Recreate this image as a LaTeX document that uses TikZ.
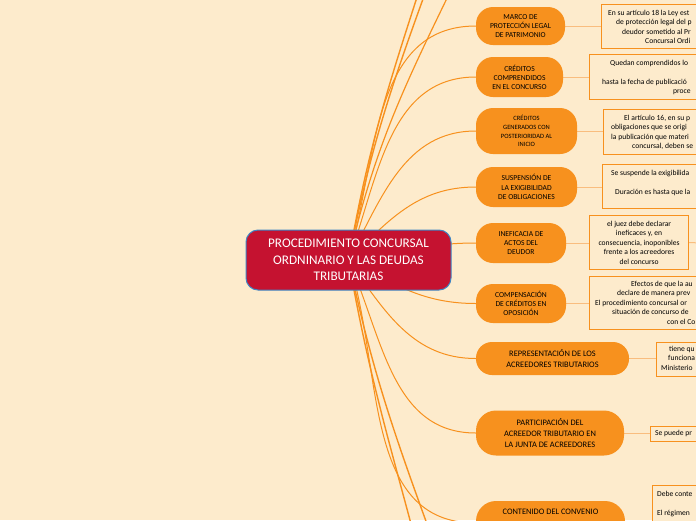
\documentclass[tikz,border=0pt]{standalone}
\usepackage{fontspec}
\setmainfont{Carlito}
\usepackage{tikz}
\usetikzlibrary{backgrounds}
\definecolor{cream}{HTML}{FDEBCC}
\definecolor{mmorange}{HTML}{F7911E}
\definecolor{mmlight}{HTML}{F9BD7E}
\definecolor{mmred}{HTML}{C51230}
\definecolor{mmblue}{HTML}{3F86C4}

\begin{document}
\begin{tikzpicture}[x=1pt,y=-1pt,
  root/.style={fill=mmred,draw=mmblue,line width=1pt,rounded corners=12pt,text=white,align=center,
    font=\fontsize{13.2}{16.5}\selectfont,minimum width=205pt,minimum height=60pt,inner sep=0pt},
  branch/.style={fill=mmorange,rounded corners=17pt,align=center,font=\fontsize{7.6}{9}\selectfont,inner sep=0pt},
  wide/.style={font=\fontsize{8.4}{11}\selectfont},
  note/.style={draw=mmorange,line width=1.2pt,fill=cream,anchor=north west,inner sep=0pt},
  notetext/.style={anchor=base west,align=left,inner sep=0pt,font=\fontsize{7.6}{9.5}\selectfont},
  link/.style={mmorange,line width=1pt},
  twig/.style={mmlight,line width=1pt}]
\useasboundingbox (0,0) rectangle (696,520);

\node[root] (root) at (348.5,260) {PROCEDIMIENTO CONCURSAL\\ORDNINARIO Y LAS DEUDAS\\TRIBUTARIAS};

% ramas
\node[branch,minimum width=89pt,minimum height=38pt] (b1) at (520.5,26) {MARCO DE\\PROTECCIÓN LEGAL\\DE PATRIMONIO};
\node[branch,minimum width=87pt,minimum height=40pt] (b2) at (519.5,77) {CRÉDITOS\\COMPRENDIDOS\\EN EL CONCURSO};
\node[branch,minimum width=101pt,minimum height=46pt,font=\fontsize{6.5}{8.7}\selectfont] (b3) at (526.5,131) {CRÉDITOS\\GENERADOS CON\\POSTERIORIDAD AL\\INICIO};
\node[branch,minimum width=101pt,minimum height=40pt,font=\fontsize{7.6}{9.5}\selectfont] (b4) at (526.5,187) {SUSPENSIÓN DE\\LA EXIGIBILIDAD\\DE OBLIGACIONES};
\node[branch,minimum width=90pt,minimum height=40pt] (b5) at (521,243) {INEFICACIA DE\\ACTOS DEL\\DEUDOR};
\node[branch,minimum width=90pt,minimum height=39pt] (b6) at (521,303.5) {COMPENSACIÓN\\DE CRÉDITOS EN\\OPOSICIÓN};
\node[branch,wide,minimum width=153pt,minimum height=33pt,rounded corners=16pt] (b7) at (552.5,358.5) {REPRESENTACIÓN DE LOS\\ACREEDORES TRIBUTARIOS};
\node[branch,wide,minimum width=148pt,minimum height=45pt,rounded corners=20pt] (b8) at (550,433) {PARTICIPACIÓN DEL\\ACREEDOR TRIBUTARIO EN\\LA JUNTA DE ACREEDORES};
\node[branch,wide,minimum width=149pt,minimum height=44pt,rounded corners=20pt] (b9) at (550.5,523) {CONTENIDO DEL CONVENIO\\~\\~};

% notas
\node[note,minimum width=120pt,minimum height=44pt] (d1) at (601,4) {};
\node[notetext] (t1) at (608,43.8) {En su artículo 18 la Ley est\\\hspace*{8pt}de protección legal del p\\\hspace*{14pt}deudor sometido al Pr\\\hspace*{37pt}Concursal Ordi};
\node[note,minimum width=130pt,minimum height=45pt] (d2) at (589,54) {};
\node[notetext] (t2) at (602,93.8) {\hspace*{8pt}Quedan comprendidos lo\\~\\hasta la fecha de publicació\\\hspace*{71pt}proce};
\node[note,minimum width=120pt,minimum height=45pt] (d3) at (603,109) {};
\node[notetext] (t3) at (611,148.8) {\hspace*{13pt}El artículo 16, en su p\\obligaciones que se origi\\la publicación que materi\\\hspace*{21pt}concursal, deben se};
\node[note,minimum width=120pt,minimum height=44pt] (d4) at (602,164) {};
\node[notetext] (t4) at (611,194.3) {Se suspende la exigibilida\\~\\\hspace*{4pt}Duración es hasta que la};
\node[note,minimum width=99pt,minimum height=54pt,align=center,anchor=north west,
  font=\fontsize{7.6}{9.5}\selectfont] (d5) at (589,215) {el juez debe declarar\\ineficaces y, en\\consecuencia, inoponibles\\frente a los acreedores\\del concurso};
\node[note,minimum width=130pt,minimum height=53pt] (d6) at (589,276) {};
\node[notetext] (t6) at (595,324.3) {\hspace*{36pt}Efectos de que la au\\\hspace*{22pt}declare de manera prev\\El procedimiento concursal or\\\hspace*{17pt}situación de concurso de\\\hspace*{72pt}con el Co};
\node[note,minimum width=60pt,minimum height=34pt] (d7) at (656,342) {};
\node[notetext] (t7) at (661,370.3) {\hspace*{8pt}tiene qu\\\hspace*{7pt}funciona\\Ministerio};
\node[note,minimum width=70pt,minimum height=15pt] (d8) at (650,426) {};
\node[notetext] (t8) at (655,435.3) {Se puede pr};
\node[note,minimum width=70pt,minimum height=60pt] (d9) at (652,485) {};
\node[notetext] (t9) at (657,515.3) {Debe conte\\~\\El régimen};

\coordinate (o1) at (420,-12);
\coordinate (o2) at (427,-12);
\coordinate (o3) at (452,-12);
\coordinate (u1) at (414,535);
\coordinate (u2) at (431,535);
\coordinate (e5) at (705,243);

\begin{scope}[on background layer]
\fill[cream] (0,0) rectangle (696,520);
\draw[link,line width=1.4pt] (root.center) to[out=80,in=-108] (o1);
\draw[link,line width=1.4pt] (root.center) to[out=79,in=-110] (o2);
\draw[link,line width=1.2pt] (root.center) to[out=77,in=-116] (o3);
\draw[link,line width=1.4pt] (root.center) to[out=-80,in=105] (u1);
\draw[link,line width=1.4pt] (root.center) to[out=-78,in=110] (u2);
\draw[link] (root.center) to[out=74,in=180] (b1.west);
\draw[link] (root.center) to[out=70,in=180] (b2.west);
\draw[link] (root.center) to[out=62,in=180] (b3.west);
\draw[link] (root.center) to[out=45,in=180] (b4.west);
\draw[link] (root.center) to[out=8,in=180] (b5.west);
\draw[link] (root.center) to[out=-28,in=180] (b6.west);
\draw[link] (root.center) to[out=-55,in=180] (b7.west);
\draw[link] (root.center) to[out=-66,in=180] (b8.west);
\draw[link] (root.center) to[out=-72,in=180] (b9.west);
\foreach \i in {1,...,8}
  \draw[twig] (b\i.east) -- (b\i.east -| d\i.west);
\draw[twig] (b9.east) -- (b9.east -| d9.west);
\draw[twig] (d5.east) -- (e5);
\end{scope}
\end{tikzpicture}
\end{document}
